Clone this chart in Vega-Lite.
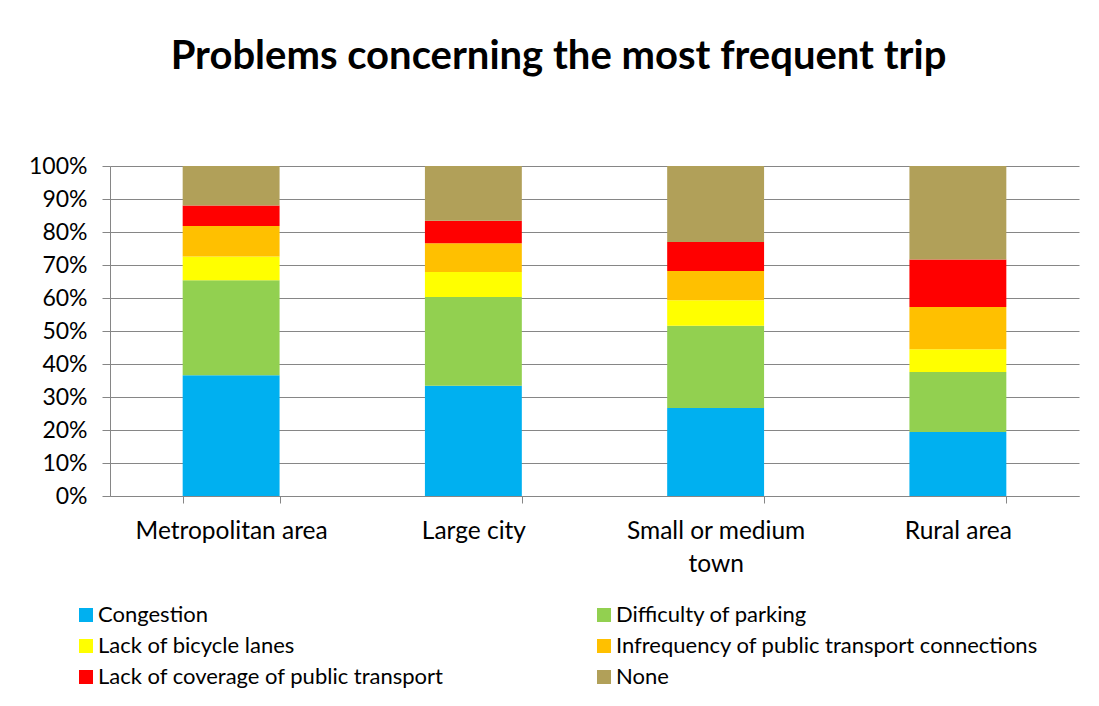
{
  "$schema": "https://vega.github.io/schema/vega-lite/v6.json",
  "width": 969,
  "height": 330,
  "autosize": {"type": "none"},
  "padding": {"left": 110, "top": 166, "right": 20, "bottom": 210},
  "background": "white",
  "title": {
    "text": "Problems concerning the most frequent trip",
    "font": "Lato",
    "fontWeight": "bold",
    "fontSize": 40,
    "color": "#000000",
    "anchor": "middle",
    "dx": -36,
    "offset": 78
  },
  "data": {
    "values": [
      {"area": "Metropolitan area", "problem": "Congestion", "k": 1, "pct": 36.6},
      {"area": "Metropolitan area", "problem": "Difficulty of parking", "k": 2, "pct": 28.8},
      {"area": "Metropolitan area", "problem": "Lack of bicycle lanes", "k": 3, "pct": 7.2},
      {"area": "Metropolitan area", "problem": "Infrequency of public transport connections", "k": 4, "pct": 9.2},
      {"area": "Metropolitan area", "problem": "Lack of coverage of public transport", "k": 5, "pct": 6.2},
      {"area": "Metropolitan area", "problem": "None", "k": 6, "pct": 12.0},
      {"area": "Large city", "problem": "Congestion", "k": 1, "pct": 33.4},
      {"area": "Large city", "problem": "Difficulty of parking", "k": 2, "pct": 26.9},
      {"area": "Large city", "problem": "Lack of bicycle lanes", "k": 3, "pct": 7.6},
      {"area": "Large city", "problem": "Infrequency of public transport connections", "k": 4, "pct": 8.7},
      {"area": "Large city", "problem": "Lack of coverage of public transport", "k": 5, "pct": 6.8},
      {"area": "Large city", "problem": "None", "k": 6, "pct": 16.6},
      {"area": "Small or medium town", "problem": "Congestion", "k": 1, "pct": 26.7},
      {"area": "Small or medium town", "problem": "Difficulty of parking", "k": 2, "pct": 24.9},
      {"area": "Small or medium town", "problem": "Lack of bicycle lanes", "k": 3, "pct": 7.7},
      {"area": "Small or medium town", "problem": "Infrequency of public transport connections", "k": 4, "pct": 8.9},
      {"area": "Small or medium town", "problem": "Lack of coverage of public transport", "k": 5, "pct": 8.8},
      {"area": "Small or medium town", "problem": "None", "k": 6, "pct": 23.0},
      {"area": "Rural area", "problem": "Congestion", "k": 1, "pct": 19.4},
      {"area": "Rural area", "problem": "Difficulty of parking", "k": 2, "pct": 18.2},
      {"area": "Rural area", "problem": "Lack of bicycle lanes", "k": 3, "pct": 6.9},
      {"area": "Rural area", "problem": "Infrequency of public transport connections", "k": 4, "pct": 12.8},
      {"area": "Rural area", "problem": "Lack of coverage of public transport", "k": 5, "pct": 14.4},
      {"area": "Rural area", "problem": "None", "k": 6, "pct": 28.3}
    ]
  },
  "mark": {"type": "bar"},
  "encoding": {
    "x": {
      "field": "area",
      "type": "nominal",
      "sort": ["Metropolitan area", "Large city", "Small or medium town", "Rural area"],
      "scale": {"paddingInner": 0.6, "paddingOuter": 0.3},
      "axis": {
        "title": null,
        "labelAngle": 0,
        "labelFont": "Lato",
        "labelFontSize": 24.5,
        "labelColor": "#000000",
        "labelPadding": 16,
        "labelLineHeight": 33,
        "labelLimit": 400,
        "labelExpr": "datum.value == 'Small or medium town' ? ['Small or medium', 'town'] : datum.value",
        "tickBand": "extent",
        "tickSize": 7,
        "tickColor": "#868686",
        "domainColor": "#868686",
        "grid": false
      }
    },
    "y": {
      "field": "pct",
      "type": "quantitative",
      "stack": "normalize",
      "scale": {"domain": [0, 1]},
      "axis": {
        "title": null,
        "format": ".0%",
        "values": [0, 0.1, 0.2, 0.3, 0.4, 0.5, 0.6, 0.7, 0.8, 0.9, 1],
        "labelFont": "Lato",
        "labelFontSize": 23,
        "labelColor": "#000000",
        "labelPadding": 15,
        "tickSize": 8,
        "tickColor": "#868686",
        "domainColor": "#868686",
        "gridColor": "#868686",
        "gridWidth": 1
      }
    },
    "color": {
      "field": "problem",
      "type": "nominal",
      "scale": {
        "domain": ["Congestion", "Lack of bicycle lanes", "Lack of coverage of public transport", "Difficulty of parking", "Infrequency of public transport connections", "None"],
        "range": ["#00B0F0", "#FFFF00", "#FF0000", "#92D050", "#FFC000", "#B1A059"]
      },
      "legend": {
        "title": null,
        "orient": "none",
        "legendX": -35,
        "legendY": 438,
        "columns": 2,
        "columnPadding": 149,
        "rowPadding": 9,
        "symbolType": "square",
        "symbolSize": 196,
        "symbolStrokeWidth": 0,
        "labelFont": "Lato",
        "labelFontSize": 22,
        "labelColor": "#000000",
        "labelOffset": 1,
        "labelLimit": 600
      }
    },
    "order": {"field": "k", "type": "quantitative"}
  },
  "config": {
    "view": {"stroke": null}
  }
}
